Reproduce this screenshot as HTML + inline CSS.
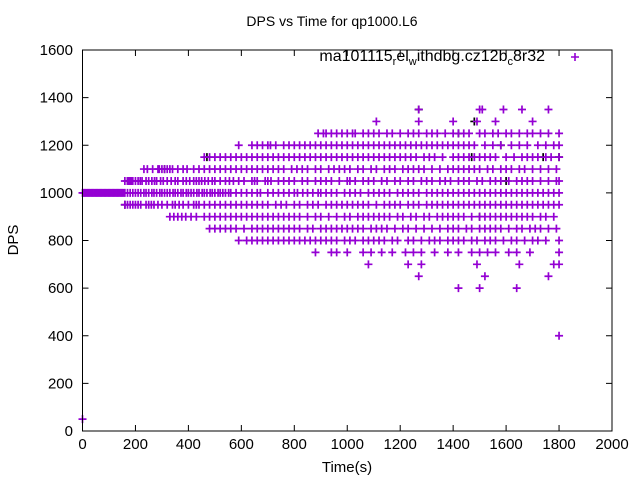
<!DOCTYPE html>
<html><head><meta charset="utf-8"><style>
html,body{margin:0;padding:0;background:#fff}
svg{display:block;font-family:"Liberation Sans",sans-serif}
</style></head><body>
<svg id="chart" width="640" height="480" xmlns="http://www.w3.org/2000/svg">
<rect width="640" height="480" fill="#fff"/>
<text x="332" y="26" font-size="14" text-anchor="middle">DPS vs Time for qp1000.L6</text>
<text x="18" y="240" font-size="15" text-anchor="middle" transform="rotate(-90 18 240)">DPS</text>
<text x="347" y="472" font-size="15" text-anchor="middle">Time(s)</text>
<g id="ticks"></g>
<g id="marks"></g>
<rect x="82.5" y="50" width="529.5" height="381" fill="none" stroke="#000" stroke-width="1"/>
<g>
<text x="545" y="61" font-size="16" text-anchor="end">ma101115<tspan font-size="11" dy="4">r</tspan><tspan dy="-4">el</tspan><tspan font-size="11" dy="4">w</tspan><tspan dy="-4">ithdbg.cz12b</tspan><tspan font-size="11" dy="4">c</tspan><tspan dy="-4">8r32</tspan></text>
<path d="M571 57h8M575 53v8" stroke="#9400d3" stroke-width="1.6"/>
</g>
</svg>
<script>
const xTicks=[0,200,400,600,800,1000,1200,1400,1600,1800,2000];
const yTicks=[0,200,400,600,800,1000,1200,1400,1600];
const levels=[1000,1050,950,1100,900,1150,850,1200,800,1250,750,1300,1350,700,650,600,400,50];
const times=[
[0,5,10,15,20,25,30,35,40,45,50,55,60,65,70,75,80,85,90,95,100,105,110,115,120,125,130,135,140,145,150,155,160,170,180,190,200,210,220,232,240,250,262,270,280,292,300,310,320,330,342,350,360,372,380,392,400,410,420,432,440,452,460,470,482,490,500,512,520,530,540,552,560,580,600,620,640,660,672,700,720,740,760,780,800,812,832,850,870,890,900,920,940,960,990,1010,1030,1050,1080,1100,1120,1140,1160,1190,1210,1230,1250,1270,1300,1320,1340,1360,1380,1400,1420,1440,1460,1480,1500,1520,1540,1560,1580,1600,1620,1640,1660,1680,1700,1720,1740,1760,1780,1800],
[160,170,175,180,185,190,200,210,218,225,240,250,262,272,280,295,305,320,335,350,360,380,392,405,420,430,440,450,462,475,490,500,520,540,555,570,590,610,640,650,660,690,700,712,740,760,780,800,830,850,880,900,920,940,970,1000,1010,1030,1060,1080,1100,1130,1150,1180,1200,1230,1250,1280,1300,1320,1350,1370,1390,1420,1440,1460,1490,1510,1540,1560,1580,1610,1640,1660,1680,1700,1730,1760,1790,1800],
[160,170,180,190,200,210,220,240,250,260,270,285,300,320,340,350,365,380,400,420,430,440,460,480,500,520,540,560,580,600,620,640,660,680,700,730,750,770,800,820,850,870,890,920,940,960,980,1000,1020,1040,1060,1080,1110,1140,1160,1180,1200,1230,1250,1270,1300,1320,1340,1360,1380,1400,1420,1440,1460,1480,1500,1520,1540,1560,1580,1600,1620,1640,1660,1680,1700,1720,1740,1760,1780,1800],
[232,245,265,285,290,300,310,320,330,340,360,380,395,420,440,460,480,500,520,540,560,580,600,620,640,660,680,700,720,740,760,790,810,830,850,880,900,930,950,970,990,1010,1040,1060,1090,1110,1140,1160,1180,1210,1230,1250,1270,1290,1320,1350,1380,1400,1420,1440,1460,1480,1500,1530,1550,1580,1600,1620,1650,1670,1700,1730,1760,1790],
[330,345,360,375,390,410,430,460,480,500,520,540,560,580,600,620,640,660,680,700,720,740,760,780,800,820,850,880,900,930,960,990,1010,1040,1060,1080,1100,1120,1140,1160,1190,1210,1240,1260,1290,1310,1340,1360,1380,1400,1420,1440,1470,1500,1520,1540,1560,1580,1600,1620,1640,1660,1680,1700,1730,1750,1780],
[460,480,500,520,540,560,580,600,620,640,660,680,700,720,740,760,780,800,820,840,860,880,900,920,940,960,980,1000,1020,1040,1060,1080,1100,1120,1140,1160,1180,1200,1220,1240,1260,1290,1310,1330,1360,1400,1420,1440,1460,1480,1500,1520,1540,1560,1600,1630,1660,1680,1700,1720,1750,1770,1800],
[480,500,520,540,560,580,610,640,660,680,700,720,740,760,780,800,820,850,870,900,920,940,960,980,1000,1020,1040,1060,1090,1110,1130,1150,1180,1210,1230,1260,1290,1320,1350,1380,1400,1420,1450,1470,1500,1520,1540,1560,1580,1610,1640,1660,1690,1710,1730,1760,1790],
[590,640,660,680,700,710,730,760,780,800,820,840,860,880,900,920,940,960,980,1000,1020,1040,1060,1080,1100,1120,1140,1160,1180,1200,1220,1240,1260,1280,1300,1320,1340,1360,1380,1400,1420,1440,1460,1480,1520,1550,1580,1620,1650,1680,1720,1750,1780,1800],
[590,620,640,660,680,700,720,740,760,780,800,820,840,860,880,900,920,940,960,990,1010,1030,1060,1080,1100,1120,1140,1170,1190,1230,1250,1280,1310,1330,1350,1380,1400,1420,1440,1470,1490,1520,1540,1560,1590,1620,1640,1670,1700,1720,1750,1800],
[890,910,920,940,960,980,1000,1020,1030,1060,1080,1100,1120,1150,1170,1200,1230,1250,1270,1300,1320,1340,1370,1400,1420,1440,1460,1500,1520,1550,1570,1600,1620,1650,1680,1700,1730,1760,1800],
[880,940,960,1000,1060,1090,1130,1170,1220,1250,1280,1330,1380,1420,1470,1500,1530,1560,1610,1640,1690,1800],
[1110,1270,1400,1490,1560,1700],
[1270,1500,1510,1590,1660,1760],
[1080,1230,1280,1490,1650,1780,1800],
[1270,1520,1760],
[1420,1500,1640],
[1800],
[0]
];
const blackLevels=[1150,1150,1150,1350,1300,1050,1050,950,1100,1200,1250,1150,900];
const blackTimes=[470,1470,1740,1270,1480,170,1600,160,310,1580,1420,1800,1500];
const X=t=>82.5+t*529.5/2000;
const Y=v=>431-v*381/1600;
const ns="http://www.w3.org/2000/svg";
const tk=document.getElementById('ticks');
const mk=document.getElementById('marks');
xTicks.forEach(v=>{
  const x=X(v);
  const p=document.createElementNS(ns,'path');
  p.setAttribute('d',`M${x} 431v-6M${x} 50v6`);p.setAttribute('stroke','#000');
  
  
  tk.appendChild(p);
  const t=document.createElementNS(ns,'text');
  t.setAttribute('x',x);t.setAttribute('y',449);t.setAttribute('font-size','15');t.setAttribute('text-anchor','middle');
  t.textContent=v;
  
  
  tk.appendChild(t);
});
yTicks.forEach(v=>{
  const y=Y(v);
  const p=document.createElementNS(ns,'path');
  p.setAttribute('d',`M82.5 ${y}h6M612 ${y}h-6`);p.setAttribute('stroke','#000');
  
  
  tk.appendChild(p);
  const t=document.createElementNS(ns,'text');
  t.setAttribute('x',73);t.setAttribute('y',y+5);t.setAttribute('font-size','15');t.setAttribute('text-anchor','end');
  t.textContent=v;
  
  
  tk.appendChild(t);
});
function cross(t,v,c){
  const x=X(t),y=Y(v);
  const p=document.createElementNS(ns,'path');
  p.setAttribute('d',`M${x-4} ${y}h8M${x} ${y-4}v8`);
  p.setAttribute('stroke',c);p.setAttribute('stroke-width','1.7');
  
  
  mk.appendChild(p);
}
blackTimes.forEach((t,i)=>cross(t,blackLevels[i],'#000'));
levels.forEach((lv,i)=>times[i].forEach(t=>cross(t,lv,'#9400d3')));
</script>
</body></html>
